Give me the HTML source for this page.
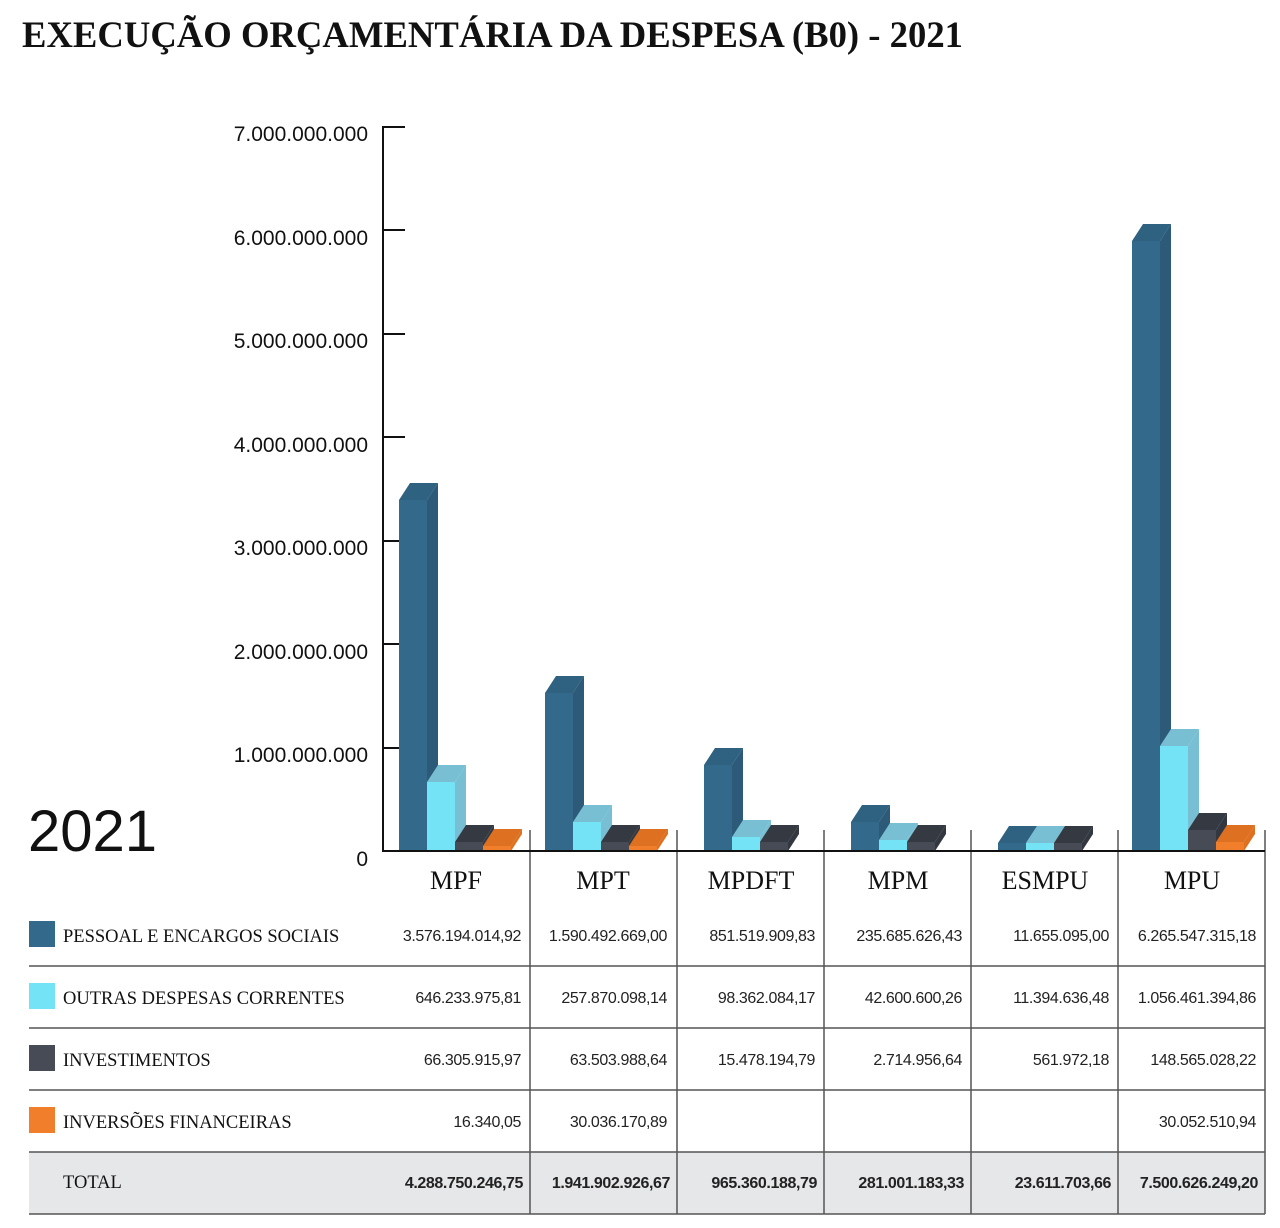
<!DOCTYPE html>
<html><head><meta charset="utf-8"><style>
html,body{margin:0;padding:0;background:#fff;}
svg{display:block}
.s{font-family:"Liberation Sans",sans-serif}
.r{font-family:"Liberation Serif",serif}
</style></head><body>
<svg width="1280" height="1228" viewBox="0 0 1280 1228" xmlns="http://www.w3.org/2000/svg">
<text x="22" y="47" class="r" font-size="37" font-weight="bold" textLength="941" lengthAdjust="spacingAndGlyphs" fill="#111">EXECUÇÃO ORÇAMENTÁRIA DA DESPESA (B0) - 2021</text>

<g class="s" font-size="21" fill="#111" text-anchor="end">
<text x="368" y="141">7.000.000.000</text>
<text x="368" y="245">6.000.000.000</text>
<text x="368" y="348">5.000.000.000</text>
<text x="368" y="452">4.000.000.000</text>
<text x="368" y="555">3.000.000.000</text>
<text x="368" y="659">2.000.000.000</text>
<text x="368" y="762">1.000.000.000</text>
<text x="368" y="866">0</text>
</g>
<text x="28" y="851" class="s" font-size="58" fill="#111">2021</text>

<g stroke="#111" stroke-width="2">
<line x1="383" y1="126" x2="383" y2="852"/>
<line x1="383" y1="127" x2="405" y2="127"/>
<line x1="383" y1="230" x2="405" y2="230"/>
<line x1="383" y1="334" x2="405" y2="334"/>
<line x1="383" y1="437" x2="405" y2="437"/>
<line x1="383" y1="541" x2="405" y2="541"/>
<line x1="383" y1="644" x2="405" y2="644"/>
<line x1="383" y1="748" x2="405" y2="748"/>
</g>

<rect x="29" y="1152" width="1236" height="62" fill="#e6e7e9"/>
<g stroke="#555" stroke-width="1.5">
<line x1="530" y1="830" x2="530" y2="1214"/>
<line x1="677" y1="830" x2="677" y2="1214"/>
<line x1="824" y1="830" x2="824" y2="1214"/>
<line x1="971" y1="830" x2="971" y2="1214"/>
<line x1="1118" y1="830" x2="1118" y2="1214"/>
<line x1="1265" y1="830" x2="1265" y2="1214"/>
<line x1="29" y1="966" x2="1265" y2="966"/>
<line x1="29" y1="1028" x2="1265" y2="1028"/>
<line x1="29" y1="1090" x2="1265" y2="1090"/>
<line x1="29" y1="1152" x2="1265" y2="1152"/>
<line x1="29" y1="1214" x2="1265" y2="1214"/>
</g>

<g id="bars"></g>
<line x1="383" y1="851" x2="1265" y2="851" stroke="#111" stroke-width="2"/>

<g class="r" font-size="26" fill="#111" text-anchor="middle">
<text x="456" y="889">MPF</text>
<text x="603" y="889">MPT</text>
<text x="751" y="889">MPDFT</text>
<text x="898" y="889">MPM</text>
<text x="1045" y="889">ESMPU</text>
<text x="1192" y="889">MPU</text>
</g>

<rect x="29" y="921" width="26" height="26" fill="#336a8c"/>
<rect x="29" y="983" width="26" height="26" fill="#73e3f5"/>
<rect x="29" y="1045" width="26" height="26" fill="#474b55"/>
<rect x="29" y="1107" width="26" height="26" fill="#f07e2a"/>
<g class="r" font-size="18.5" fill="#111">
<text x="63" y="942">PESSOAL E ENCARGOS SOCIAIS</text>
<text x="63" y="1004">OUTRAS DESPESAS CORRENTES</text>
<text x="63" y="1066">INVESTIMENTOS</text>
<text x="63" y="1128">INVERSÕES FINANCEIRAS</text>
<text x="63" y="1188">TOTAL</text>
</g>
<g class="s" font-size="16" fill="#222" text-anchor="end" letter-spacing="-0.4">
<text x="521" y="941">3.576.194.014,92</text><text x="667" y="941">1.590.492.669,00</text><text x="815" y="941">851.519.909,83</text><text x="962" y="941">235.685.626,43</text><text x="1109" y="941">11.655.095,00</text><text x="1256" y="941">6.265.547.315,18</text>
<text x="521" y="1003">646.233.975,81</text><text x="667" y="1003">257.870.098,14</text><text x="815" y="1003">98.362.084,17</text><text x="962" y="1003">42.600.600,26</text><text x="1109" y="1003">11.394.636,48</text><text x="1256" y="1003">1.056.461.394,86</text>
<text x="521" y="1065">66.305.915,97</text><text x="667" y="1065">63.503.988,64</text><text x="815" y="1065">15.478.194,79</text><text x="962" y="1065">2.714.956,64</text><text x="1109" y="1065">561.972,18</text><text x="1256" y="1065">148.565.028,22</text>
<text x="521" y="1127">16.340,05</text><text x="667" y="1127">30.036.170,89</text><text x="1256" y="1127">30.052.510,94</text>
<g font-weight="bold"><text x="523" y="1188">4.288.750.246,75</text><text x="670" y="1188">1.941.902.926,67</text><text x="817" y="1188">965.360.188,79</text><text x="964" y="1188">281.001.183,33</text><text x="1111" y="1188">23.611.703,66</text><text x="1258" y="1188">7.500.626.249,20</text></g>
</g>
</svg>
<script>
var C=[["#336a8c","#2c5a78","#2f6181"],["#73e3f5","#78bfd4","#78bfd4"],["#474b55","#333840","#343942"],["#f07e2a","#de7020","#dd7021"]];
var G=[[399,[500,782,842,846]],[545,[693,822,842,846]],[704,[765,837,842]],[851,[822,840,842]],[998,[843,843,843]],[1132,[241,746,830,842]]];
var s="";
G.forEach(function(g){g[1].forEach(function(t,i){var x=g[0]+28*i,c=C[i];
s+='<polygon fill="'+c[1]+'" points="'+(x+28)+','+t+' '+(x+39)+','+(t-17)+' '+(x+39)+',834 '+(x+28)+',851"/>';
s+='<polygon fill="'+c[2]+'" points="'+x+','+t+' '+(x+11)+','+(t-17)+' '+(x+39)+','+(t-17)+' '+(x+28)+','+t+'"/>';
s+='<rect fill="'+c[0]+'" x="'+x+'" y="'+t+'" width="28" height="'+(851-t)+'"/>';});});
document.getElementById("bars").innerHTML=s;
</script>
</body></html>
